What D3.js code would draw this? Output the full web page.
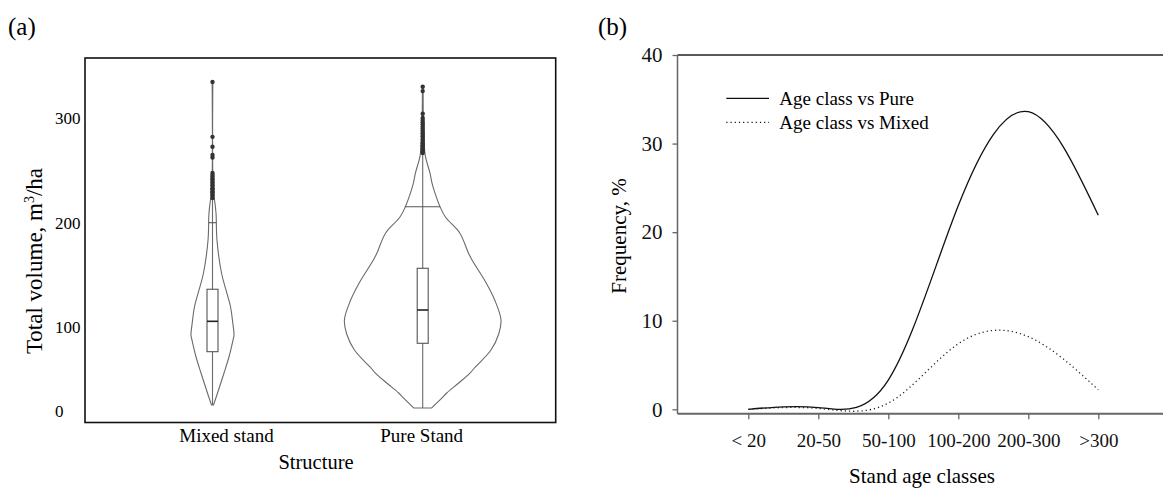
<!DOCTYPE html>
<html>
<head>
<meta charset="utf-8">
<script src="https://cdn.jsdelivr.net/npm/d3@7"></script>
<style>
  html, body { margin: 0; padding: 0; background: #fff; }
  svg { display: block; font-family: "Liberation Serif", "Times New Roman", serif; }
</style>
</head>
<body>
<svg id="fig" width="1163" height="491"></svg>
<script>
// ---------- Panel (a): total volume by stand structure ----------
const structures = ["Mixed stand", "Pure Stand"];
const volumeTicks = [0, 100, 200, 300];

// kernel density profile (relative density) sampled along volume, m3/ha
const mixedDensityValues = [7.7, 25.6, 45.8, 65.2, 85.1, 91.1, 104.3, 119.8, 135.8, 152, 183.5, 209, 221.7, 230, 334.5];
const mixedDensity       = [0.013, 0.077, 0.147, 0.211, 0.262, 0.275, 0.259, 0.23, 0.172, 0.115, 0.057, 0.045, 0.026, 0.01, 0.004];
const pureDensityValues  = [4.2, 16.1, 22, 33.9, 45.8, 53, 73.2, 92.3, 107.2, 126.2, 142.5, 164.4, 171.1, 190.2, 205.4, 215, 228.3, 237.9, 247.4, 264.6, 290, 329.8];
const pureDensity        = [0.115, 0.246, 0.307, 0.46, 0.604, 0.673, 0.872, 0.971, 1, 0.92, 0.811, 0.63, 0.584, 0.473, 0.29, 0.223, 0.157, 0.119, 0.093, 0.032, 0.01, 0.004];

// box summaries: [Q1, median, Q3], upper fence
const mixedQuartiles = [71.2, 105.9, 136.5];
const pureQuartiles  = [81.2, 116.7, 156.5];
const mixedFence = 200;
const pureFence  = 215.2;

// outlying stands
const mixedOutliers = [334.5, 282, 272.5, 264.6, 262.2, 247.4, 245.5, 244, 242, 241, 239, 238, 236, 235, 233, 232, 230, 229, 227.5, 226, 223.5];
const pureOutliers  = [329.8, 325.7, 304, 300, 298, 296, 294, 292, 290, 288, 286, 285, 283, 282, 280, 279, 277, 276, 274, 273, 271, 270, 268, 266.5];

// ---------- Panel (b): frequency by stand age class ----------
const ageClasses = ["< 20", "20-50", "50-100", "100-200", "200-300", ">300"];
const pureFreq   = [0, 0.2, 3.3, 23, 33.6, 21.9];
const mixedFreq  = [0, 0.1, 0.7, 7.4, 8.2, 2.2];
const freqTicks  = [0, 10, 20, 30, 40];
const seriesNames = ["Age class vs Pure", "Age class vs Mixed"];

const svg = d3.select("#fig");

// ===== Panel (a) =====
const a = svg.append("g");
const frameA = { x0: 85, x1: 555.7, y0: 58, y1: 422.5 };

const yA = d3.scaleLinear().domain(volumeTicks).range([411.5, 327.5, 222.7, 118]);
const xA = d3.scalePoint().domain(structures).range([212.5, 422.7]);
const wA = d3.scaleLinear().domain([0, 1]).range([0, 78.3]);

a.append("text").attr("x", 8).attr("y", 35).attr("font-size", 25).text("(a)");

a.append("rect")
  .attr("x", frameA.x0).attr("y", frameA.y0)
  .attr("width", frameA.x1 - frameA.x0).attr("height", frameA.y1 - frameA.y0)
  .attr("fill", "none").attr("stroke", "#111").attr("stroke-width", 1.6);

// tick labels (no tick marks on this axis)
a.append("g").selectAll("text").data(volumeTicks).join("text")
  .attr("x", 55).attr("y", d => yA(d)).attr("dy", "0.35em")
  .attr("font-size", 17).text(d => d);

a.append("text")
  .attr("transform", `translate(42,261) rotate(-90)`)
  .attr("text-anchor", "middle").attr("font-size", 23)
  .call(t => {
    t.append("tspan").text("Total volume, m");
    t.append("tspan").attr("font-size", 14).attr("dy", -8).text("3");
    t.append("tspan").attr("dy", 8).text("/ha");
  });

const labelShift = [14, -1];
a.append("g").selectAll("text").data(structures).join("text")
  .attr("x", (d, i) => xA(d) + labelShift[i]).attr("y", 441.5)
  .attr("text-anchor", "middle").attr("font-size", 19).text(d => d);

a.append("text").attr("x", 316).attr("y", 469)
  .attr("text-anchor", "middle").attr("font-size", 20.5).text("Structure");

function densityAt(vals, dens, v) {
  const i = d3.bisectRight(vals, v);
  if (i <= 0) return dens[0];
  if (i >= vals.length) return dens[dens.length - 1];
  const t = (v - vals[i - 1]) / (vals[i] - vals[i - 1]);
  return dens[i - 1] + t * (dens[i] - dens[i - 1]);
}

const violins = [
  { name: structures[0], vals: mixedDensityValues, dens: mixedDensity, q: mixedQuartiles, fence: mixedFence, out: mixedOutliers },
  { name: structures[1], vals: pureDensityValues, dens: pureDensity, q: pureQuartiles, fence: pureFence, out: pureOutliers }
];

violins.forEach(v => {
  const cx = xA(v.name);
  const pts = v.vals.map((val, i) => ({ v: val, d: v.dens[i] }));
  const area = d3.area()
    .y(d => yA(d.v))
    .x0(d => cx - wA(d.d))
    .x1(d => cx + wA(d.d))
    .curve(d3.curveCatmullRom);
  const g = a.append("g");
  g.append("path").attr("d", area(pts))
    .attr("fill", "none").attr("stroke", "#6a6a6a").attr("stroke-width", 1.1);

  // centre line across the full range
  g.append("line")
    .attr("x1", cx).attr("x2", cx)
    .attr("y1", yA(v.vals[0])).attr("y2", yA(v.vals[v.vals.length - 1]))
    .attr("stroke", "#6a6a6a").attr("stroke-width", 1.1);

  // upper fence spanning the violin width
  const fw = wA(densityAt(v.vals, v.dens, v.fence));
  g.append("line")
    .attr("x1", cx - fw).attr("x2", cx + fw)
    .attr("y1", yA(v.fence)).attr("y2", yA(v.fence))
    .attr("stroke", "#555").attr("stroke-width", 1.1);

  // interquartile box and median
  const bw = 11;
  g.append("rect")
    .attr("x", cx - bw / 2).attr("width", bw)
    .attr("y", yA(v.q[2])).attr("height", yA(v.q[0]) - yA(v.q[2]))
    .attr("fill", "#fff").attr("stroke", "#555").attr("stroke-width", 1.1);
  g.append("line")
    .attr("x1", cx - bw / 2).attr("x2", cx + bw / 2)
    .attr("y1", yA(v.q[1])).attr("y2", yA(v.q[1]))
    .attr("stroke", "#222").attr("stroke-width", 1.6);

  g.selectAll("circle").data(v.out).join("circle")
    .attr("cx", cx).attr("cy", d => yA(d)).attr("r", 2.2)
    .attr("fill", "#333");
});

// ===== Panel (b) =====
const b = svg.append("g");
const xB = d3.scalePoint().domain(ageClasses).range([748.3, 1098.3]);
const yB = d3.scaleLinear().domain([0, 40]).range([409.3, 55]);
const axisX0 = 677.5, axisY = 413.7, rightEdge = 1163;

b.append("text").attr("x", 598).attr("y", 35).attr("font-size", 25).text("(b)");

// top border
b.append("line").attr("x1", axisX0).attr("x2", rightEdge)
  .attr("y1", yB(40)).attr("y2", yB(40)).attr("stroke", "#222").attr("stroke-width", 1.5);

// y axis
const yAxis = d3.axisLeft(yB).tickValues(freqTicks).tickSize(5).tickPadding(10).tickSizeOuter(0);
const gy = b.append("g").attr("transform", `translate(${axisX0},0)`).call(yAxis);
gy.select(".domain").attr("d", `M0,${yB(40)}V${axisY}`).attr("stroke", "#666").attr("stroke-width", 1.5);
gy.selectAll(".tick line").attr("stroke", "#666").attr("stroke-width", 1.3);
gy.selectAll(".tick text").attr("font-family", "Liberation Serif").attr("font-size", 21).attr("fill", "#111");

// x axis
const xAxis = d3.axisBottom(xB).tickSize(5.5).tickPadding(14).tickSizeOuter(0);
const gx = b.append("g").attr("transform", `translate(0,${axisY})`).call(xAxis);
gx.select(".domain").attr("d", `M${axisX0},0H${rightEdge}`).attr("stroke", "#666").attr("stroke-width", 2);
gx.selectAll(".tick line").attr("stroke", "#666").attr("stroke-width", 1.3);
gx.selectAll(".tick text").attr("font-family", "Liberation Serif").attr("font-size", 19).attr("fill", "#111");

b.append("text").attr("x", 922).attr("y", 483)
  .attr("text-anchor", "middle").attr("font-size", 21).text("Stand age classes");
b.append("text").attr("transform", "translate(626,236) rotate(-90)")
  .attr("text-anchor", "middle").attr("font-size", 21).text("Frequency, %");

const line = d3.line().x((d, i) => xB(ageClasses[i])).y(d => yB(d)).curve(d3.curveNatural);
b.append("path").attr("d", line(pureFreq))
  .attr("fill", "none").attr("stroke", "#111").attr("stroke-width", 1.3);
b.append("path").attr("d", line(mixedFreq))
  .attr("fill", "none").attr("stroke", "#222").attr("stroke-width", 1.3)
  .attr("stroke-dasharray", "1.2,3");

// legend
const legY = [98.3, 122.3];
const dashes = [null, "1.2,3"];
seriesNames.forEach((name, i) => {
  b.append("line").attr("x1", 726.3).attr("x2", 769).attr("y1", legY[i]).attr("y2", legY[i])
    .attr("stroke", "#111").attr("stroke-width", 1.3)
    .attr("stroke-dasharray", dashes[i]);
  b.append("text").attr("x", 779.3).attr("y", legY[i]).attr("dy", "0.33em")
    .attr("font-size", 19).text(name);
});
</script>
</body>
</html>
